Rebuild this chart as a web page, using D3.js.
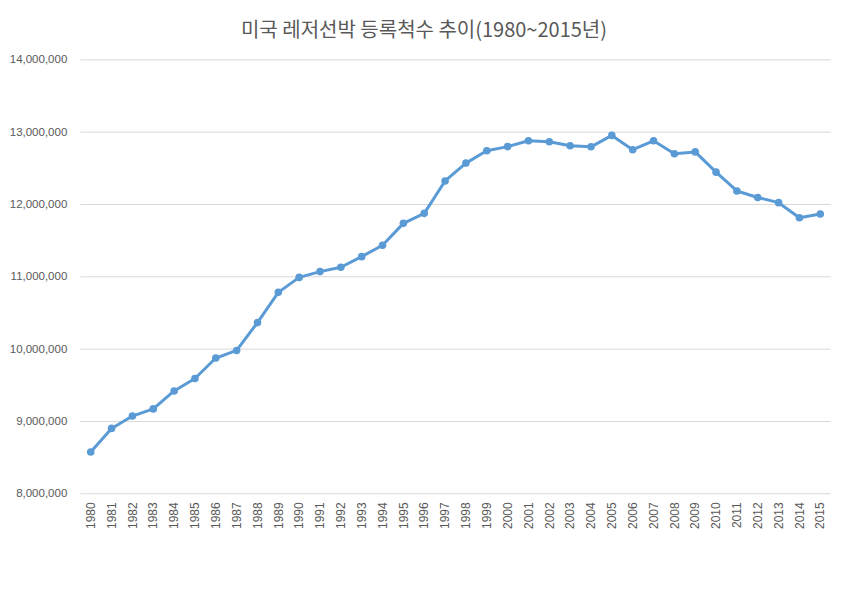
<!DOCTYPE html>
<html><head><meta charset="utf-8">
<script src="https://cdn.jsdelivr.net/npm/d3@7"></script>
<style>body{margin:0;background:#fff;}</style>
</head><body>
<script>
const title = "미국 레저선박 등록척수 추이(1980~2015년)";
const years = ["1980","1981","1982","1983","1984","1985","1986","1987","1988","1989","1990","1991","1992","1993","1994","1995","1996","1997","1998","1999","2000","2001","2002","2003","2004","2005","2006","2007","2008","2009","2010","2011","2012","2013","2014","2015"];
const values = [8570000,8897000,9068000,9167000,9415000,9587000,9870000,9975000,10360000,10778000,10985000,11065000,11125000,11272000,11430000,11732000,11870000,12318000,12565000,12735000,12793000,12873000,12860000,12805000,12790000,12948000,12750000,12873000,12695000,12720000,12440000,12180000,12090000,12018000,11810000,11862000];
const yTicks = [8000000,9000000,10000000,11000000,12000000,13000000,14000000];

const W = 846, H = 614;
const svg = d3.select("body").append("svg").attr("width", W).attr("height", H);
const x = d3.scaleBand().domain(years).range([80.3, 830.7]);
const y = d3.scaleLinear().domain([8000000, 14000000]).range([493.3, 59.3]);
const fmt = d3.format(",");

svg.append("text").attr("x", 424).attr("y", 37).attr("text-anchor", "middle")
  .attr("font-family", "'Noto Sans CJK KR', sans-serif").attr("font-size", 20)
  .attr("fill", "#595959").text(title);

const yAxis = svg.append("g").attr("transform", "translate(80.3,0)")
  .call(d3.axisLeft(y).tickValues(yTicks).tickFormat(fmt).tickSize(-750.4).tickPadding(13));
yAxis.select(".domain").remove();
yAxis.selectAll(".tick line").attr("stroke", "#d9d9d9");
yAxis.selectAll(".tick text").attr("fill", "#595959").attr("font-size", 11.5)
  .attr("font-family", "'Liberation Sans', Arial, sans-serif");

const xAxis = svg.append("g").attr("transform", "translate(0,493.3)")
  .call(d3.axisBottom(x).tickSize(0));
xAxis.select(".domain").remove();
xAxis.selectAll(".tick text").attr("fill", "#595959").attr("font-size", 12)
  .attr("font-family", "'Liberation Sans', Arial, sans-serif")
  .attr("transform", "rotate(-90)").attr("text-anchor", "end")
  .attr("x", -9).attr("y", 0).attr("dy", "0.35em");

const cx = d => x(d) + x.bandwidth() / 2;
const line = d3.line().x((d, i) => cx(years[i])).y(d => y(d));
svg.append("path").datum(values).attr("d", line).attr("fill", "none")
  .attr("stroke", "#5b9bd5").attr("stroke-width", 3).attr("stroke-linejoin", "round");
svg.append("g").selectAll("circle").data(values).join("circle")
  .attr("cx", (d, i) => cx(years[i])).attr("cy", d => y(d)).attr("r", 3.8)
  .attr("fill", "#5b9bd5");
</script>
</body></html>
